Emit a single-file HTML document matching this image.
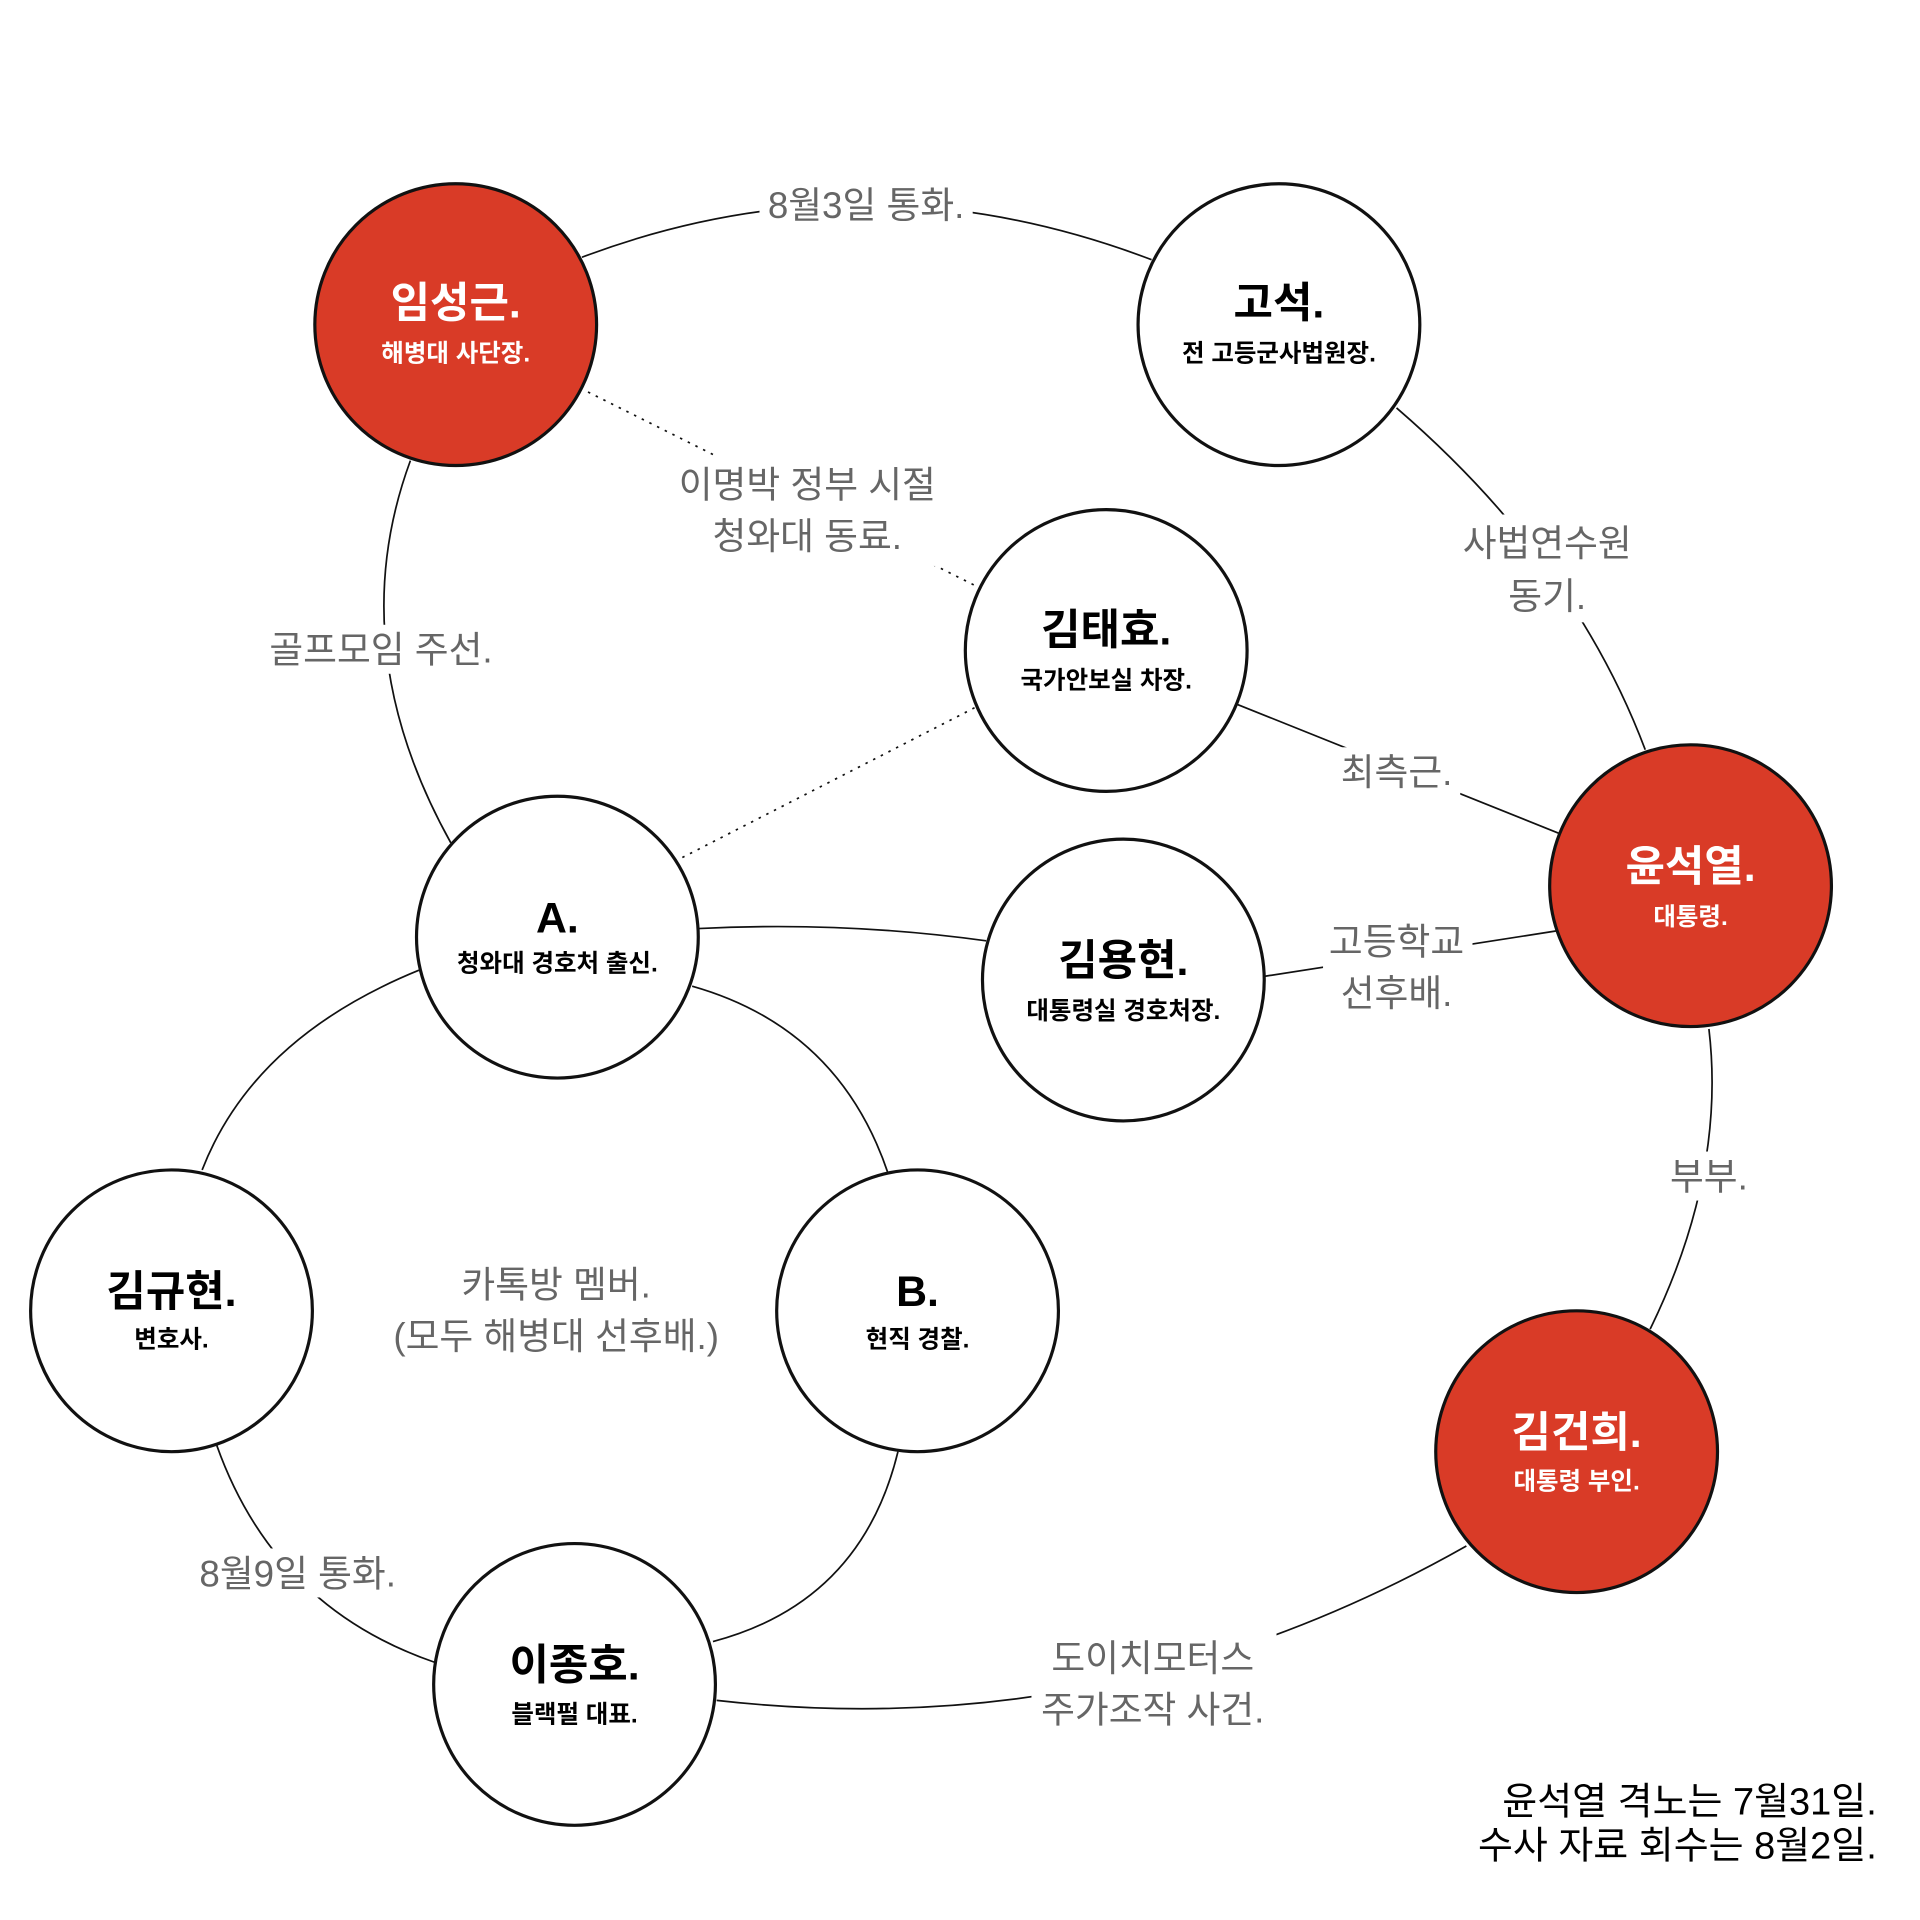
<!DOCTYPE html>
<html><head><meta charset="utf-8"><style>
html,body{margin:0;padding:0;background:#fff}
svg{display:block}
text{font-family:"Liberation Sans","Noto Sans CJK KR",sans-serif}
.lb{fill:#666;font-size:30px;text-anchor:middle}
.t{font-size:35px;font-weight:bold;text-anchor:middle}
.s{font-size:20px;font-weight:bold;text-anchor:middle}
</style></head><body>
<svg width="1920" height="1920" viewBox="0 0 1567.3 1567.3" xmlns="http://www.w3.org/2000/svg">
<g fill="none" stroke="#111" stroke-width="1.4">
<path d="M475,210 Q706,123 940,212"/>
<path d="M1140,333 Q1285,458 1343,612"/>
<path d="M1395,840 Q1409,958 1347,1085"/>
<path d="M1197,1262 Q909,1425 585,1388"/>
<path d="M335,376 Q279,528 368,688"/>
<path d="M480,320 L800,480" stroke-dasharray="2 5"/>
<path d="M557,700 L797,577" stroke-dasharray="2 5"/>
<path d="M1010,575 L1272,680"/>
<path d="M570,758 Q690,752 805,768"/>
<path d="M1032,797 L1270,760"/>
<path d="M342,792 Q207,847 165,955"/>
<path d="M565,805 Q685,839 725,958"/>
<path d="M177,1180 Q224,1312 355,1357"/>
<path d="M733,1185 Q703,1308 582,1340"/>
</g>
<g fill="#fff">
<rect x="620" y="150" width="174" height="38"/>
<rect x="548" y="372" width="222" height="90"/>
<rect x="214" y="510" width="196" height="40"/>
<rect x="1188" y="420" width="150" height="88"/>
<rect x="1090" y="610" width="102" height="40"/>
<rect x="1080" y="745" width="122" height="90"/>
<rect x="1358" y="940" width="72" height="40"/>
<rect x="155" y="1264" width="178" height="40"/>
<rect x="842" y="1330" width="200" height="90"/>
</g>
<text class="lb" x="707" y="178">8월3일 통화.</text>
<text class="lb" x="659" y="406">이명박 정부 시절</text>
<text class="lb" x="659" y="448">청와대 동료.</text>
<text class="lb" x="311" y="541">골프모임 주선.</text>
<text class="lb" x="1263" y="454">사법연수원</text>
<text class="lb" x="1263" y="497">동기.</text>
<text class="lb" x="1140" y="641">최측근.</text>
<text class="lb" x="1140" y="779">고등학교</text>
<text class="lb" x="1140" y="821">선후배.</text>
<text class="lb" x="1395" y="971">부부.</text>
<text class="lb" x="454" y="1059">카톡방 멤버.</text>
<text class="lb" x="454" y="1101">(모두 해병대 선후배.)</text>
<text class="lb" x="243" y="1295">8월9일 통화.</text>
<text class="lb" x="941" y="1364">도이치모터스</text>
<text class="lb" x="941" y="1406">주가조작 사건.</text>
<g stroke="#111" stroke-width="2.6">
<circle cx="372" cy="265" r="115" fill="#d93b27"/>
<circle cx="1044" cy="265" r="115" fill="#fff"/>
<circle cx="903" cy="531" r="115" fill="#fff"/>
<circle cx="1380" cy="723" r="115" fill="#d93b27"/>
<circle cx="455" cy="765" r="115" fill="#fff"/>
<circle cx="917" cy="800" r="115" fill="#fff"/>
<circle cx="140" cy="1070" r="115" fill="#fff"/>
<circle cx="749" cy="1070" r="115" fill="#fff"/>
<circle cx="469" cy="1375" r="115" fill="#fff"/>
<circle cx="1287" cy="1185" r="115" fill="#d93b27"/>
</g>
<g fill="#fff">
<text class="t" x="372" y="259">임성근.</text><text class="s" x="372" y="295">해병대 사단장.</text>
<text class="t" x="1380" y="719">윤석열.</text><text class="s" x="1380" y="755">대통령.</text>
<text class="t" x="1287" y="1181">김건희.</text><text class="s" x="1287" y="1216">대통령 부인.</text>
</g>
<g fill="#000">
<text class="t" x="1044" y="259">고석.</text><text class="s" x="1044" y="295">전 고등군사법원장.</text>
<text class="t" x="903" y="526">김태효.</text><text class="s" x="903" y="562">국가안보실 차장.</text>
<text class="t" x="455" y="761">A.</text><text class="s" x="455" y="793">청와대 경호처 출신.</text>
<text class="t" x="917" y="796">김용현.</text><text class="s" x="917" y="832">대통령실 경호처장.</text>
<text class="t" x="140" y="1066">김규현.</text><text class="s" x="140" y="1100">변호사.</text>
<text class="t" x="749" y="1066">B.</text><text class="s" x="749" y="1100">현직 경찰.</text>
<text class="t" x="469" y="1371">이종호.</text><text class="s" x="469" y="1406">블랙펄 대표.</text>
<text x="1532" y="1481" font-size="31" text-anchor="end">윤석열 격노는 7월31일.</text>
<text x="1532" y="1517" font-size="31" text-anchor="end">수사 자료 회수는 8월2일.</text>
</g>
</svg>
</body></html>
